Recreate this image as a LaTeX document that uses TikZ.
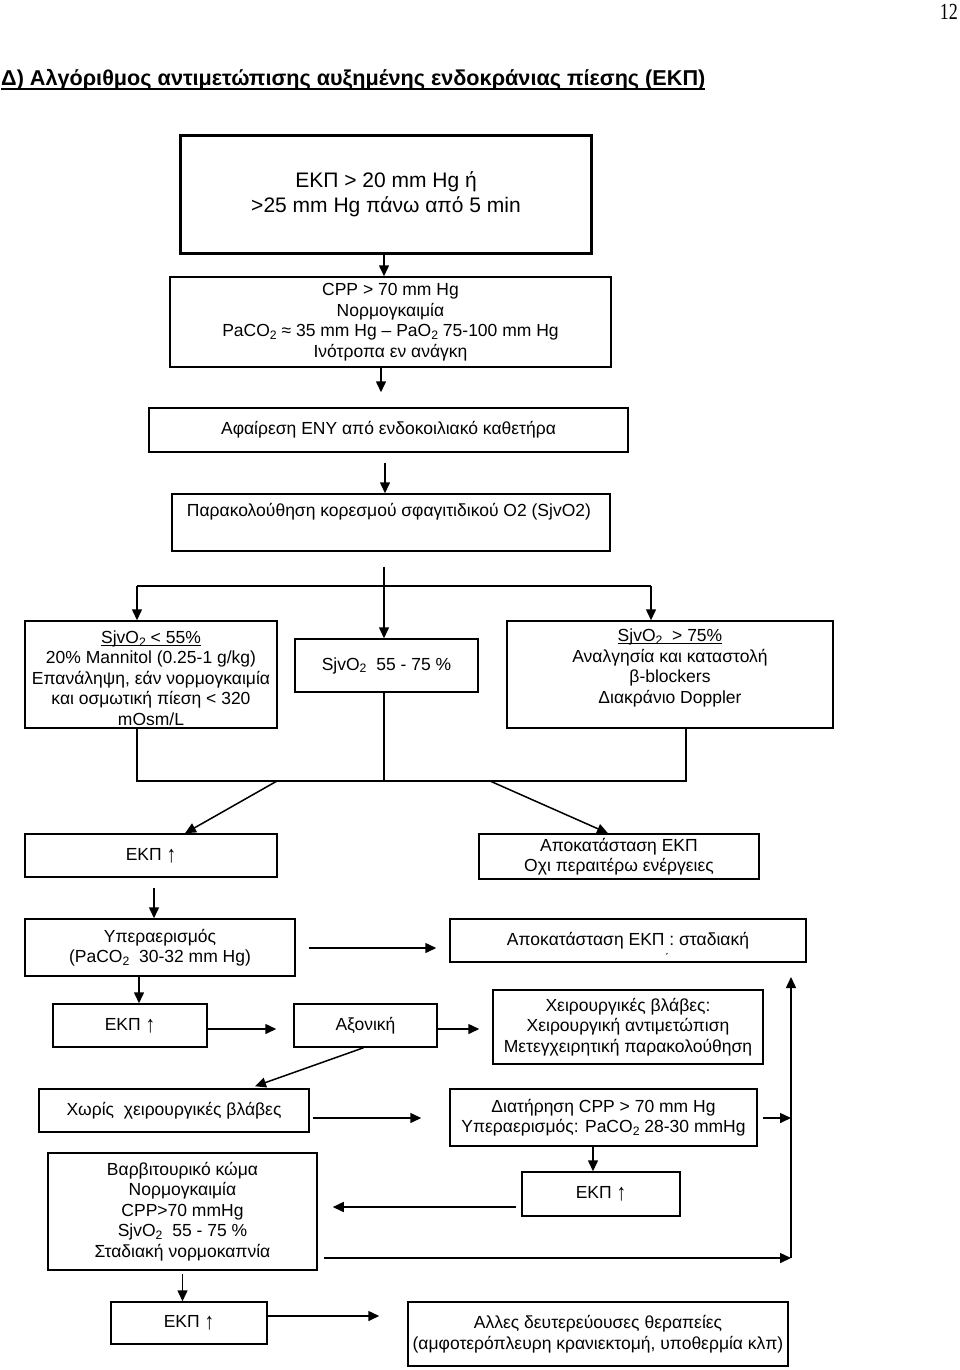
\documentclass[tikz,border=0pt]{standalone}
\usepackage{fontspec}
\setmainfont{Liberation Sans}
\newfontfamily\pagefont{Liberation Serif}
\usepackage{graphicx}
\usetikzlibrary{arrows.meta,calc}
\newcommand\lowtwo{\raisebox{-0.3ex}{\scalebox{0.7}{2}}}
\newcommand\uparr{\raisebox{-2pt}{\scalebox{1.1}[1.35]{↑}}}
\newcommand\myul[1]{\setbox0\hbox{#1}\rlap{\rule[-2.6pt]{\wd0}{0.9pt}}\box0}
\tikzset{
  box/.style={draw, line width=1.5pt, inner sep=0pt, align=center, font=\fontsize{17.5}{20.5}\selectfont},
  txt/.style={inner sep=0pt, align=center, font=\fontsize{17.5}{20.5}\selectfont},
  conn/.style={line width=1.5pt},
  arr/.style={line width=1.5pt, -{Triangle[length=11pt,width=10pt]}},
}
\begin{document}
\begin{tikzpicture}[x=1pt,y=-1pt]
\useasboundingbox (0,0) rectangle (960,1370);

% page number and title
\node[anchor=base east, inner sep=0pt] (pg) at (958,20) {\resizebox{18pt}{\height}{\pagefont\fontsize{23}{23}\selectfont 12}};
\node[anchor=base west, inner sep=0pt] (title) at (1,86) {\resizebox{704pt}{\height}{\fontsize{21.5}{21.5}\selectfont\bfseries Δ) Αλγόριθμος αντιμετώπισης αυξημένης ενδοκράνιας πίεσης (ΕΚΠ)}};
\draw[line width=1.5pt] ($(title.base west)+(0,3)$) -- ($(title.base east)+(0,3)$);

% boxes
\node[box, line width=2.6pt, minimum width=411pt, minimum height=118pt, font=\fontsize{21}{24.5}\selectfont] (b1) at (386,194.5) {ΕΚΠ > 20 mm Hg ή\\>25 mm Hg πάνω από 5 min};
\node[box, minimum width=441pt, minimum height=90pt] (b2) at (390.5,322) {CPP > 70 mm Hg\\Νορμογκαιμία\\PaCO\lowtwo{} ≈ 35 mm Hg – PaO\lowtwo{} 75-100 mm Hg\\Ινότροπα εν ανάγκη};
\node[box, minimum width=479pt, minimum height=44pt] (b3) at (388.5,430) {Αφαίρεση ΕΝΥ από ενδοκοιλιακό καθετήρα};
\node[box, minimum width=438pt, minimum height=57pt] (b4) at (391,522.5) {};
\node[txt] (t4) at (389,512) {Παρακολούθηση κορεσμού σφαγιτιδικού Ο2 (SjvO2)};

\node[box, minimum width=252pt, minimum height=107pt] (L) at (151,674.5) {};
\node[txt] (tL) at (151,678) {\myul{SjvO\lowtwo{} < 55\%}\\20\% Mannitol (0.25-1 g/kg)\\Επανάληψη, εάν νορμογκαιμία\\και οσμωτική πίεση < 320\\mOsm/L};
\node[box, minimum width=183pt, minimum height=53pt] (M) at (386.5,665.5) {SjvO\lowtwo\ \ 55 - 75 \%};
\node[box, minimum width=326pt, minimum height=107pt] (R) at (670,674.5) {};
\node[txt] (tR) at (670,668) {\myul{SjvO\lowtwo\ \ > 75\%}\\Αναλγησία και καταστολή\\β-blockers\\Διακράνιο Doppler};

\node[box, minimum width=252pt, minimum height=43pt] (E1) at (151,855.5) {ΕΚΠ \uparr};
\node[box, minimum width=280pt, minimum height=45pt] (A1) at (619,856.5) {Αποκατάσταση ΕΚΠ\\Οχι περαιτέρω ενέργειες};
\node[box, minimum width=270pt, minimum height=57pt] (Y) at (160,947.5) {Υπεραερισμός\\(PaCO\lowtwo\ \ 30-32 mm Hg)};
\node[box, minimum width=356pt, minimum height=43pt] (A2) at (628,940.5) {Αποκατάσταση ΕΚΠ : σταδιακή};
\node[txt, font=\fontsize{12}{12}\selectfont] (acc) at (667,958) {΄};
\node[box, minimum width=154pt, minimum height=43pt] (E2) at (130,1025.5) {ΕΚΠ \uparr};
\node[box, minimum width=143pt, minimum height=43pt] (Ax) at (365.5,1025.5) {Αξονική};
\node[box, minimum width=270pt, minimum height=74pt] (X) at (628,1027) {Χειρουργικές βλάβες:\\Χειρουργική αντιμετώπιση\\Μετεγχειρητική παρακολούθηση};
\node[box, minimum width=270pt, minimum height=43pt] (C) at (174,1110.5) {Χωρίς\ \ χειρουργικές βλάβες};
\node[box, minimum width=307pt, minimum height=57pt] (D) at (603.5,1117.5) {Διατήρηση CPP > 70 mm Hg\\Υπεραερισμός: PaCO\lowtwo{} 28-30 mmHg};
\node[box, minimum width=269pt, minimum height=117pt] (V) at (182.5,1211.5) {Βαρβιτουρικό κώμα\\Νορμογκαιμία\\CPP>70 mmHg\\SjvO\lowtwo\ \ 55 - 75 \%\\Σταδιακή νορμοκαπνία};
\node[box, minimum width=158pt, minimum height=44pt] (E3) at (601,1194) {ΕΚΠ \uparr};
\node[box, minimum width=156pt, minimum height=42pt] (E4) at (189,1323) {ΕΚΠ \uparr};
\node[box, minimum width=380pt, minimum height=64pt] (Al) at (598,1334) {Αλλες δευτερεύουσες θεραπείες\\(αμφοτερόπλευρη κρανιεκτομή, υποθερμία κλπ)};

% helper coordinates
\coordinate (xa) at (384,0);
\coordinate (xb) at (381,0);
\coordinate (xc) at (385,0);
\coordinate (j1) at (384,586);
\coordinate (j2) at (137,586);
\coordinate (j3) at (651,586);
\coordinate (k1) at (137,781);
\coordinate (k2) at (384,781);
\coordinate (k3) at (686,781);
\coordinate (d1) at (277,781);
\coordinate (d2) at (490,781);
\coordinate (xe) at (154,0);
\coordinate (ya) at (0,948);
\coordinate (xf) at (139,0);
\coordinate (yb) at (0,1029);
\coordinate (yc) at (0,1118);
\coordinate (xg) at (791,0);
\coordinate (xh) at (593,0);
\coordinate (yd) at (0,1207);
\coordinate (ye) at (0,1258);
\coordinate (yf) at (0,1316);
\coordinate (corner) at (xg |- ye);
\coordinate (top) at (791,977);

% connectors
\draw[arr] (b1.south -| xa) -- (b2.north -| xa);
\draw[arr, shorten >=15pt] (b2.south -| xb) -- (b3.north -| xb);
\draw[arr, shorten <=10pt] (b3.south -| xc) -- (b4.north -| xc);
\draw[conn, shorten <=15pt] (b4.south -| j1) -- (j1);
\draw[conn] (j2) -- (j3);
\draw[arr] (j1) -- (M.north -| j1);
\draw[arr] (j2) -- (L.north -| j2);
\draw[arr] (j3) -- (R.north -| j3);
\draw[conn] (L.south -| k1) -- (k1) -- (k3) -- (R.south -| k3);
\draw[conn] (M.south -| k2) -- (k2);
\draw[arr] (d1) -- ($(E1.north)+(34,0)$);
\draw[arr] (d2) -- ($(A1.north)+(-11,0)$);
\draw[arr, shorten <=10pt] (E1.south -| xe) -- (Y.north -| xe);
\draw[arr, shorten <=13pt, shorten >=13pt] (Y.east |- ya) -- (A2.west |- ya);
\draw[arr] (Y.south -| xf) -- (E2.north -| xf);
\draw[arr, shorten >=17pt] (E2.east |- yb) -- (Ax.west |- yb);
\draw[arr, shorten >=13pt] (Ax.east |- yb) -- (X.west |- yb);
\draw[arr] ($(Ax.south)+(-2,0)$) -- ($(C.north)+(81,-2)$);
\draw[arr, shorten <=3pt, shorten >=28pt] (C.east |- yc) -- (D.west |- yc);
\draw[arr, shorten <=5pt] (D.east |- yc) -- (xg |- yc);
\draw[arr] (D.south -| xh) -- (E3.north -| xh);
\draw[arr, shorten <=5pt, shorten >=15pt] (E3.west |- yd) -- (V.east |- yd);
\draw[arr, shorten <=6pt] (V.east |- ye) -- (corner);
\draw[arr] (corner) -- (top);
\draw[arr, shorten <=3pt] (V.south) -- (E4.north -| V.south);
\draw[arr, shorten >=28pt] (E4.east |- yf) -- (Al.west |- yf);
\end{tikzpicture}
\end{document}
